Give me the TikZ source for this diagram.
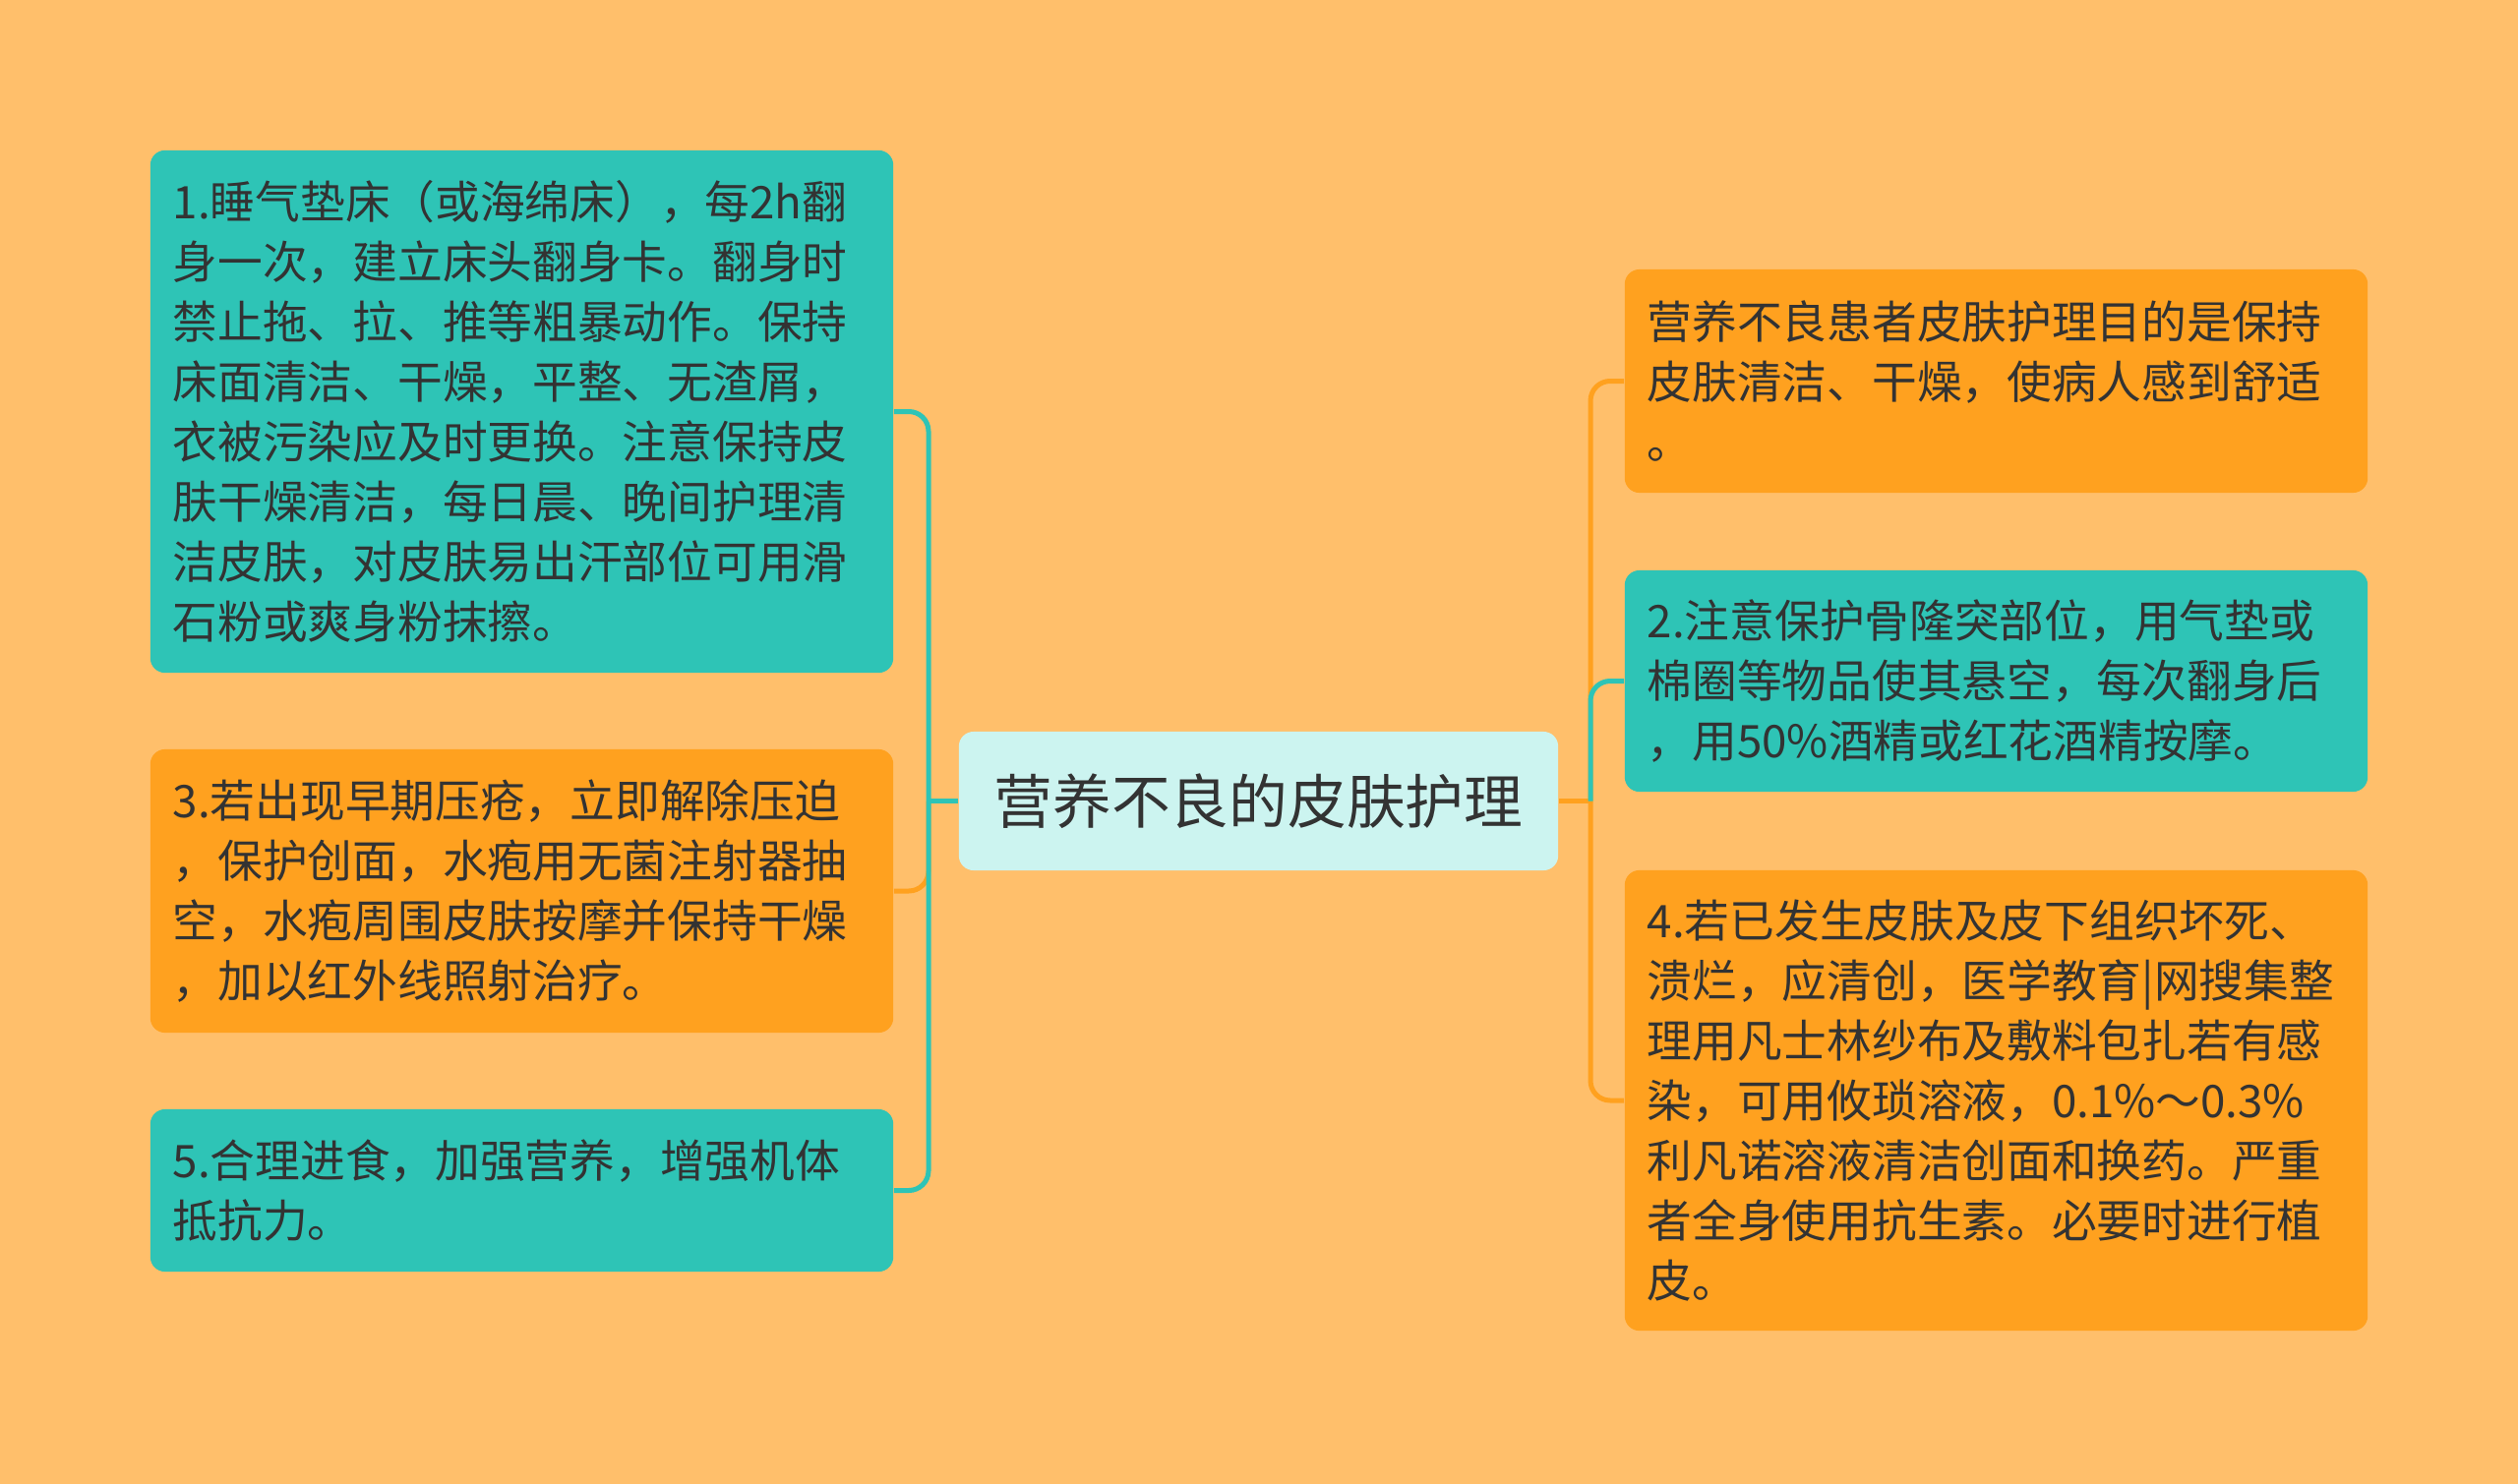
\documentclass[tikz,border=0pt]{standalone}
\usepackage{fontspec}
\setmainfont{Noto Sans CJK SC}
\definecolor{bgc}{HTML}{FFBF6B}
\definecolor{tealc}{HTML}{2EC4B6}
\definecolor{orangec}{HTML}{FFA11F}
\definecolor{centerc}{HTML}{CCF4F0}
\definecolor{txtc}{HTML}{333333}
\newcommand{\boxfont}{\fontsize{13pt}{17.35pt}\selectfont}
\newcommand{\mainfont}{\fontsize{17pt}{20pt}\selectfont}
\begin{document}
\begin{tikzpicture}[x=0.01cm,y=-0.01cm,
  basebox/.style={rounded corners=0.15cm, minimum width=7.55cm, text width=7.09cm,
    inner xsep=0.23cm, inner ysep=0pt, align=left, font=\boxfont, text=txtc},
  tealbox/.style={basebox, fill=tealc},
  orangebox/.style={basebox, fill=orangec},
  centerbox/.style={rounded corners=0.15cm, fill=centerc, minimum width=6.09cm,
    minimum height=1.41cm, font=\mainfont, text=txtc, inner sep=0pt},
  tealline/.style={draw=tealc, line width=0.05cm, rounded corners=0.2cm},
  orangeline/.style={draw=orangec, line width=0.05cm, rounded corners=0.2cm}]
\fill[bgc] (0,0) rectangle (2560,1509);
\useasboundingbox (0,0) rectangle (2560,1509);

\node[centerbox] (c) at (1279.5,814.5) {营养不良的皮肤护理};

\node[tealbox, minimum height=5.31cm] (b1) at (530.5,418.5) {1.睡气垫床（或海绵床），每2h翻\\身一次，建立床头翻身卡。翻身时\\禁止拖、拉、推等粗暴动作。保持\\床面清洁、干燥，平整、无渣屑，\\衣被污染应及时更换。注意保持皮\\肤干燥清洁，每日晨、晚间护理清\\洁皮肤，对皮肤易出汗部位可用滑\\石粉或爽身粉抹擦。};
\node[orangebox, minimum height=2.88cm] (b3) at (530.5,906) {3.若出现早期压疮，立即解除压迫\\，保护创面，水疱用无菌注射器抽\\空，水疱周围皮肤按摩并保持干燥\\，加以红外线照射治疗。};
\node[tealbox, minimum height=1.65cm] (b5) at (530.5,1210.5) {5.合理进食，加强营养，增强机体\\抵抗力。};

\node[orangebox, minimum height=2.27cm] (r0) at (2029.5,387.5) {营养不良患者皮肤护理目的是保持\\皮肤清洁、干燥，使病人感到舒适\\。};
\node[tealbox, minimum height=2.25cm] (b2) at (2029.5,692.5) {2.注意保护骨隆突部位，用气垫或\\棉圈等物品使其悬空，每次翻身后\\，用50\%酒精或红花酒精按摩。};
\node[orangebox, minimum height=4.68cm] (b4) at (2029.5,1119) {4.若已发生皮肤及皮下组织坏死、\\溃烂，应清创，医学教育|网搜集整\\理用凡士林纱布及敷料包扎若有感\\染，可用攸琐溶液，0.1\%～0.3\%\\利凡诺溶液清洁创面和换药。严重\\者全身使用抗生素。必要时进行植\\皮。};

\coordinate (lj) at (944,814.5);
\coordinate (rj) at (1617,814.5);

% left side
\draw[orangeline] (lj) |- (b3.east);
\draw[tealline] (b1.east) -| (lj) |- (b5.east);
\draw[tealline] (c.west) -- (lj);

% right side
\draw[orangeline] (r0.west) -| (rj) |- (b4.west);
\draw[orangeline] (c.east) -- (rj);
\draw[tealline] (rj) |- (b2.west);
\end{tikzpicture}
\end{document}
